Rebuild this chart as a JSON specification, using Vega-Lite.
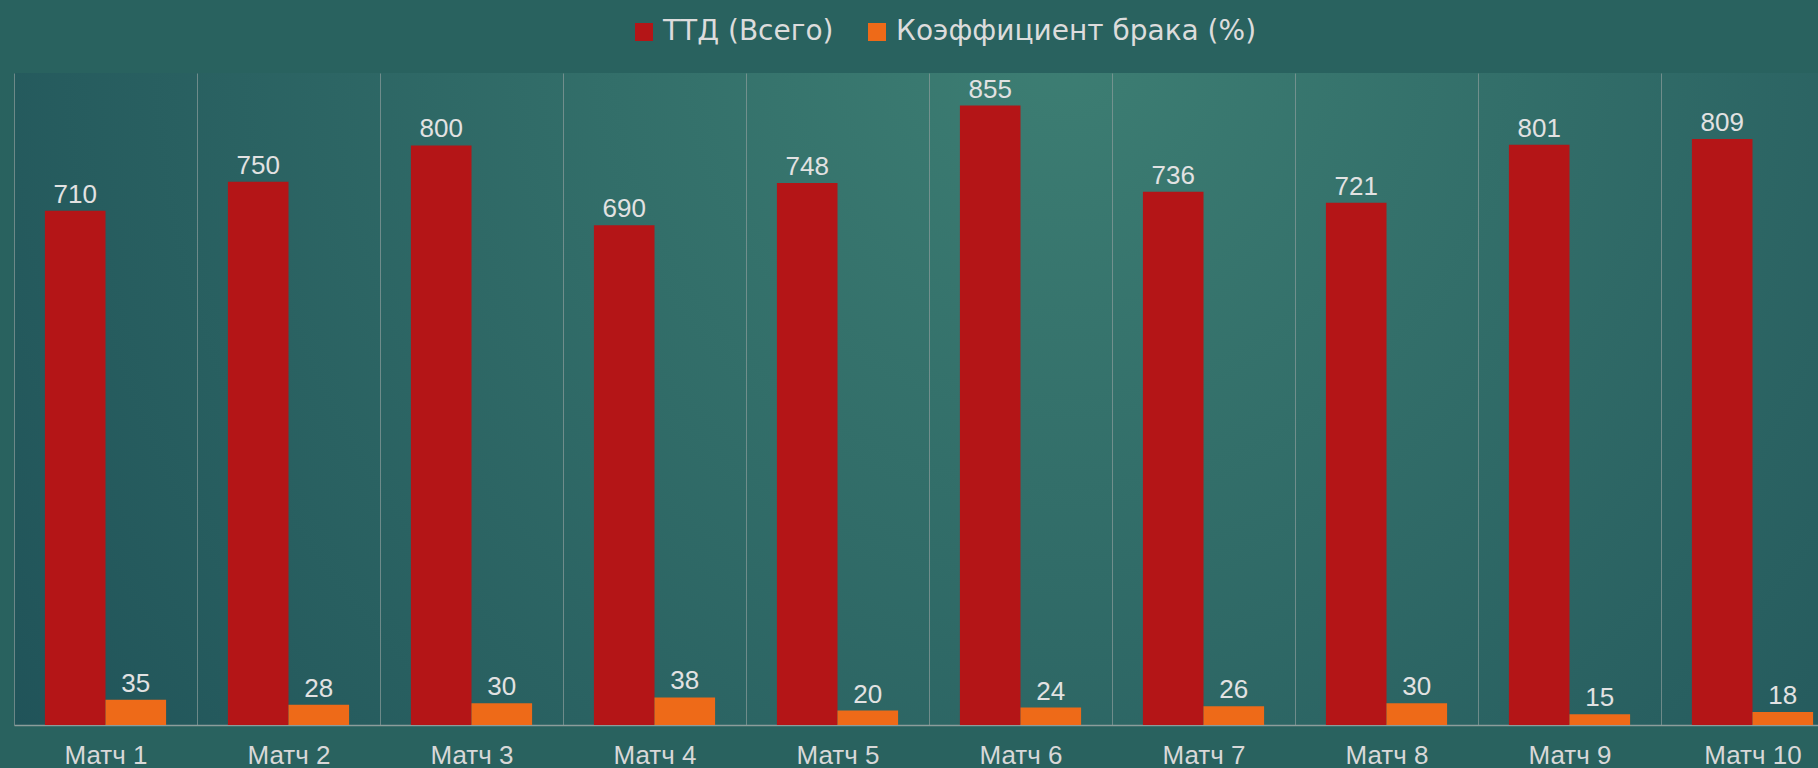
{
  "$schema": "https://vega.github.io/schema/vega-lite/v6.json",
  "width": 1804,
  "height": 652,
  "autosize": {"type": "none"},
  "padding": {"left": 14, "top": 73, "right": 0, "bottom": 43},
  "background": "#29625f",
  "view": {
    "stroke": null,
    "fill": {
      "gradient": "radial",
      "x1": 0.58, "y1": 0.3, "r1": 0,
      "x2": 0.58, "y2": 0.3, "r2": 0.75,
      "stops": [
        {"offset": 0, "color": "#3d7e73"},
        {"offset": 1, "color": "#1e5057"}
      ]
    }
  },
  "data": {
    "values": [
      {"match": "Матч 1", "series": "ТТД (Всего)", "value": 710},
      {"match": "Матч 1", "series": "Коэффициент брака (%)", "value": 35},
      {"match": "Матч 2", "series": "ТТД (Всего)", "value": 750},
      {"match": "Матч 2", "series": "Коэффициент брака (%)", "value": 28},
      {"match": "Матч 3", "series": "ТТД (Всего)", "value": 800},
      {"match": "Матч 3", "series": "Коэффициент брака (%)", "value": 30},
      {"match": "Матч 4", "series": "ТТД (Всего)", "value": 690},
      {"match": "Матч 4", "series": "Коэффициент брака (%)", "value": 38},
      {"match": "Матч 5", "series": "ТТД (Всего)", "value": 748},
      {"match": "Матч 5", "series": "Коэффициент брака (%)", "value": 20},
      {"match": "Матч 6", "series": "ТТД (Всего)", "value": 855},
      {"match": "Матч 6", "series": "Коэффициент брака (%)", "value": 24},
      {"match": "Матч 7", "series": "ТТД (Всего)", "value": 736},
      {"match": "Матч 7", "series": "Коэффициент брака (%)", "value": 26},
      {"match": "Матч 8", "series": "ТТД (Всего)", "value": 721},
      {"match": "Матч 8", "series": "Коэффициент брака (%)", "value": 30},
      {"match": "Матч 9", "series": "ТТД (Всего)", "value": 801},
      {"match": "Матч 9", "series": "Коэффициент брака (%)", "value": 15},
      {"match": "Матч 10", "series": "ТТД (Всего)", "value": 809},
      {"match": "Матч 10", "series": "Коэффициент брака (%)", "value": 18}
    ]
  },
  "encoding": {
    "x": {
      "field": "match",
      "type": "nominal",
      "sort": null,
      "scale": {"range": [0, 1830], "paddingInner": 0, "paddingOuter": 0},
      "axis": {
        "title": null,
        "orient": "bottom",
        "grid": true,
        "gridColor": "#8c9d9b",
        "gridWidth": 1,
        "gridOpacity": 0.7,
        "tickBand": "extent",
        "ticks": false,
        "tickSize": 0,
        "domainColor": "#8c9d9b",
        "domainWidth": 1.5,
        "labelAngle": 0,
        "labelFontSize": 26,
        "labelFont": "Liberation Sans",
        "labelColor": "#d8d8d8",
        "labelBaseline": "alphabetic",
        "labelPadding": 38
      }
    },
    "xOffset": {
      "field": "series",
      "type": "nominal",
      "scale": {
        "domain": ["ТТД (Всего)", "Коэффициент брака (%)"],
        "paddingInner": 0,
        "paddingOuter": 0.51
      }
    },
    "y": {
      "field": "value",
      "type": "quantitative",
      "scale": {"domain": [0, 900], "nice": false},
      "axis": null
    }
  },
  "layer": [
    {
      "mark": {"type": "bar"},
      "encoding": {
        "color": {
          "field": "series",
          "type": "nominal",
          "scale": {
            "domain": ["ТТД (Всего)", "Коэффициент брака (%)"],
            "range": ["#b41517", "#ee6a18"]
          },
          "legend": {
            "orient": "none",
            "legendX": 616,
            "legendY": -55,
            "direction": "horizontal",
            "title": null,
            "symbolType": "square",
            "symbolSize": 324,
            "symbolStrokeWidth": 0,
            "labelFontSize": 28,
            "labelFont": "DejaVu Sans",
            "labelColor": "#dcdcdc",
            "labelLimit": 800,
            "columnPadding": 29,
            "labelOffset": 5
          }
        }
      }
    },
    {
      "mark": {
        "type": "text",
        "dy": -8,
        "baseline": "alphabetic",
        "fontSize": 26,
        "font": "Liberation Sans",
        "fill": "#e2e2e2"
      },
      "encoding": {
        "text": {"field": "value", "type": "quantitative"}
      }
    }
  ]
}
